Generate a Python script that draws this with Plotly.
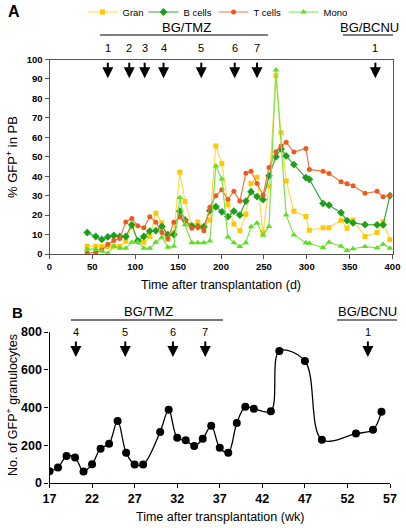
import plotly.graph_objects as go

# ---------------- Panel A data ----------------
days = [44, 54, 61, 68, 75, 82, 89, 96, 103, 110, 117, 124, 131, 138, 145, 152, 158,
        166, 173, 180, 187, 194, 201, 208, 215, 222, 229, 235, 242, 249, 256, 264,
        270, 276, 285, 299, 303, 319, 326, 340, 347, 354, 368, 382, 389, 397]
gran = [4, 4, 3.8, 3.8, 4, 4, 6.5, 14, 7, 6, 9, 21, 16, 7.5, 11, 42, 27,
        14.5, 16.5, 13.7, 17.5, 55.5, 46.5, 25.3, 15.4, 12, 20.4, 36.3, 39.4, 11, 35, 91.7,
        62.3, 37.5, 22, 19.3, 12.2, 13.5, 13.5, 17.4, 13.3, 17.5, 9, 11, 16.6, 7.3]
bcells = [11, 9, 7.5, 8.8, 9.5, 9, 9, 15, 6.7, 9, 11.8, 12, 14.2, 10, 10, 22, 17.5,
          14.4, 14, 14, 22.3, 24.3, 21.7, 19.2, 22, 20, 27.2, 32, 29.5, 28, 40.2, 50,
          54, 50.4, 46, 39.3, 38.4, 26, 25.1, 21.2, 17.2, 16, 15.1, 15, 15, 30]
tcells = [0.5, 0.8, 2, 5, 7, 8, 16.5, 18.3, 14.5, 13.5, 19.2, 16.3, 11, 8, 16.3, 19, 17,
          13.3, 14, 12, 24, 30, 33, 28, 32.2, 27.3, 41.5, 42.6, 36.3, 30.3, 44.5, 52.6,
          55.5, 57.4, 52.4, 54.3, 43.5, 42.5, 41.4, 37.2, 36.1, 35.1, 31.2, 32.2, 29.4, 30.2]
mono = [2.5, 2.5, 1.5, 0.3, 4, 3, 3, 6, 6, 3, 3, 6, 8.6, 3.5, 4, 29, 15,
        5.8, 5.8, 5.8, 6.7, 45.3, 38.5, 8.8, 5.8, 3.8, 5.8, 14, 16, 9.6, 14.2, 94.6,
        None, 20, 9.8, 5.8, 5.5, 3.3, 6, 4, 1.8, 2.7, 3.8, 3.1, 5, 3]

a_tmz_days = [68, 93, 111, 133, 177, 216, 242]
a_tmz_labels = ["1", "2", "3", "4", "5", "6", "7"]
a_bcnu_days = [380]
a_bcnu_labels = ["1"]

# ---------------- Panel B data ----------------
weeks = [17, 18, 19, 20, 21, 22, 23, 24, 25, 26, 27, 28, 30, 31, 32, 33, 34, 35, 36, 37,
         38, 39, 40, 41, 43, 44, 47, 49, 53, 55, 56]
gran_count = [62, 82, 143, 135, 61, 100, 182, 208, 329, 161, 98, 98, 271, 388, 240, 226,
              196, 234, 303, 187, 161, 318, 404, 394, 381, 700, 647, 229, 262, 282, 378]

b_tmz_weeks = [20.1, 25.9, 31.5, 35.3]
b_tmz_labels = ["4", "5", "6", "7"]
b_bcnu_weeks = [54.4]
b_bcnu_labels = ["1"]

W, H = 406, 528
def px(x):
    return x / W
def py(y):
    return 1 - y / H

FONT = "Liberation Sans, Arial, sans-serif"

fig = go.Figure()

series = [
    ("Gran", gran, "#FFC800", "#FFD84D", "square", 5, 16),
    ("B cells", bcells, "#1E9E1E", "#35A835", "diamond", 6, 25),
    ("T cells", tcells, "#EE5A1E", "#F07A45", "circle", 5, 25),
    ("Mono", mono, "#5EE01E", "#7BE348", "triangle-up", 6, 25),
]
for name, vals, mc, lc, sym, ms, lw in series:
    fig.add_trace(go.Scatter(
        x=days, y=vals, name=name, mode="lines+markers", connectgaps=True,
        line=dict(color=lc, width=1.2),
        marker=dict(color=mc, symbol=sym, size=ms, line=dict(width=0)),
        legendwidth=lw,
        xaxis="x", yaxis="y", showlegend=True))

fig.add_trace(go.Scatter(
    x=weeks, y=gran_count, mode="lines+markers", showlegend=False,
    line=dict(color="black", width=1.3, shape="spline", smoothing=1.0),
    marker=dict(color="black", size=8),
    xaxis="x2", yaxis="y2"))

axA_x = dict(domain=[px(49.5), px(392.5)], range=[0, 400], tick0=0, dtick=50,
             showline=True, linecolor="#555", mirror=True, linewidth=1,
             ticks="outside", ticklen=4, tickcolor="#555", showgrid=False, zeroline=False,
             tickfont=dict(size=9.5, family=FONT, color="black", weight="bold"),
             anchor="y", automargin=False)
axA_y = dict(domain=[py(254), py(59.5)], range=[0, 100], dtick=10,
             showline=True, linecolor="#555", mirror=True, linewidth=1,
             ticks="outside", ticklen=4, tickcolor="#555", showgrid=False, zeroline=False,
             tickfont=dict(size=9.5, family=FONT, color="black", weight="bold"),
             anchor="x", automargin=False)
axB_x = dict(domain=[px(49.5), px(390)], range=[17, 57], tick0=17, dtick=5,
             showline=True, linecolor="black", linewidth=1.2,
             ticks="outside", ticklen=4, tickcolor="black", showgrid=False, zeroline=False,
             tickfont=dict(size=12.5, family=FONT, color="black", weight="bold"),
             anchor="y2", automargin=False)
axB_y = dict(domain=[py(483), py(332)], range=[0, 800.5], tickvals=[0, 200, 400, 600, 800],
             showline=True, linecolor="black", linewidth=1.2,
             ticks="outside", ticklen=4, tickcolor="black", showgrid=False, zeroline=False,
             tickfont=dict(size=12.5, family=FONT, color="black", weight="bold"),
             anchor="x2", automargin=False)

annotations = []
shapes = []

def txt(x, y, s, size, bold=False, xref="paper", yref="paper", angle=0, xanchor="center"):
    annotations.append(dict(x=x, y=y, xref=xref, yref=yref, text=s, showarrow=False,
                            textangle=angle, xanchor=xanchor, yanchor="middle",
                            font=dict(size=size, family=FONT, color="black",
                                      weight="bold" if bold else "normal")))

# panel letters
txt(px(14), py(12), "A", 16, bold=True)
txt(px(17), py(312), "B", 15, bold=True)

# axis titles
txt(px(12), py(157), "% GFP<sup>+</sup> in PB", 13, angle=-90)
txt(px(221), py(285), "Time after transplantation (d)", 12.5)
txt(px(12), py(405), "No. of GFP<sup>+</sup> granulocytes", 12.5, angle=-90)
txt(px(220), py(517), "Time after transplantation (wk)", 12.5)

# Panel A treatment header
txt(px(186), py(28), "BG/TMZ", 13)
txt(px(369), py(28), "BG/BCNU", 13)
shapes.append(dict(type="line", xref="paper", yref="paper", x0=px(100), x1=px(268),
                   y0=py(35), y1=py(35), line=dict(color="black", width=1)))
shapes.append(dict(type="line", xref="paper", yref="paper", x0=px(343), x1=px(393),
                   y0=py(35), y1=py(35), line=dict(color="black", width=1)))

for d, lab in zip(a_tmz_days + a_bcnu_days, a_tmz_labels + a_bcnu_labels):
    txt(d, py(48), lab, 11, xref="x")
    annotations.append(dict(x=d, y=90.3, xref="x", yref="y", text="", showarrow=True,
                            ax=0, ay=-17, arrowhead=2, arrowsize=1.1, arrowwidth=2,
                            arrowcolor="black"))

# Panel B treatment header
txt(px(148), py(311), "BG/TMZ", 13)
txt(px(367), py(311), "BG/BCNU", 13)
shapes.append(dict(type="line", xref="paper", yref="paper", x0=px(71), x1=px(223),
                   y0=py(320), y1=py(320), line=dict(color="#777", width=2)))
shapes.append(dict(type="line", xref="paper", yref="paper", x0=px(337), x1=px(397),
                   y0=py(320), y1=py(320), line=dict(color="black", width=1)))

for w, lab in zip(b_tmz_weeks + b_bcnu_weeks, b_tmz_labels + b_bcnu_labels):
    txt(w, py(332), lab, 11, xref="x2")
    annotations.append(dict(x=w, y=668, xref="x2", yref="y2", text="", showarrow=True,
                            ax=0, ay=-17, arrowhead=2, arrowsize=1.1, arrowwidth=2,
                            arrowcolor="black"))

fig.update_layout(
    width=W, height=H,
    margin=dict(l=0, r=0, t=0, b=0, pad=0, autoexpand=False),
    paper_bgcolor="white", plot_bgcolor="white",
    font=dict(family=FONT, size=11, color="black"),
    hovermode=False,
    xaxis=axA_x, yaxis=axA_y, xaxis2=axB_x, yaxis2=axB_y,
    legend=dict(orientation="h", x=px(218), y=py(12), xanchor="center", yanchor="middle",
                font=dict(size=9.5, family=FONT), itemwidth=30, tracegroupgap=0,
                bgcolor="rgba(0,0,0,0)"),
    annotations=annotations, shapes=shapes,
)

fig.write_html("out.html", config={"displayModeBar": False, "staticPlot": False},
               post_script="document.body.style.margin='0';document.body.style.overflow='hidden';")
